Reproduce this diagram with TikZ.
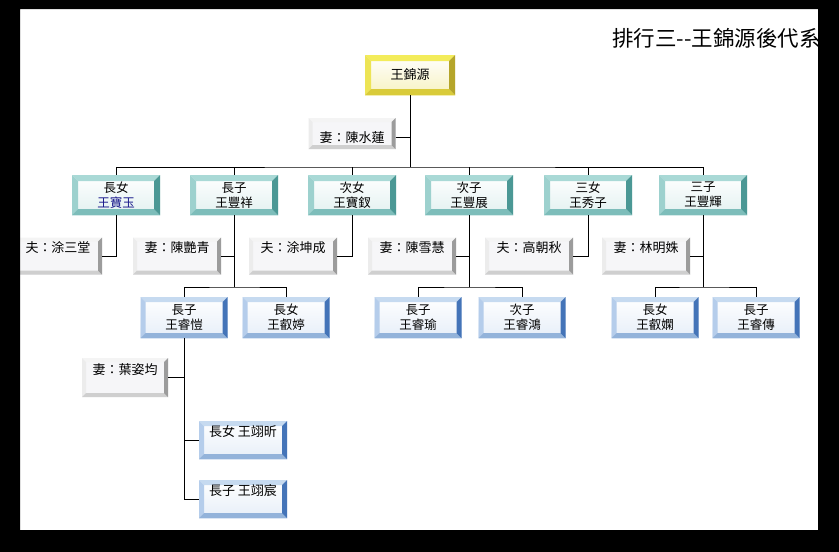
\documentclass[tikz,border=0pt]{standalone}
\usepackage{fontspec}
\newfontfamily\cjk{Noto Sans CJK TC}
\usetikzlibrary{calc}
\definecolor{yTop}{HTML}{F3EC5A}\definecolor{yLeft}{HTML}{EDE455}\definecolor{yBot}{HTML}{D9CB3A}\definecolor{yRight}{HTML}{B5A52A}\definecolor{yIn}{HTML}{F7F2C0}
\definecolor{tTop}{HTML}{A9D9D6}\definecolor{tLeft}{HTML}{9DD1CE}\definecolor{tBot}{HTML}{7DBDBA}\definecolor{tRight}{HTML}{4B9895}\definecolor{tIn}{HTML}{E2F1F0}
\definecolor{bTop}{HTML}{C6DAF0}\definecolor{bLeft}{HTML}{B5CDEB}\definecolor{bBot}{HTML}{93B3DA}\definecolor{bRight}{HTML}{4474B8}\definecolor{bIn}{HTML}{E6EEF8}
\definecolor{gTop}{HTML}{F4F4F4}\definecolor{gLeft}{HTML}{ECECEC}\definecolor{gBot}{HTML}{CFCFCF}\definecolor{gRight}{HTML}{9C9C9C}\definecolor{gIn}{HTML}{F6F6F8}
\definecolor{nameblue}{HTML}{1A1A8C}
\tikzset{
  bevel/.style n args={5}{path picture={
    \coordinate (pNW) at (path picture bounding box.north west);
    \coordinate (pSE) at (path picture bounding box.south east);
    \coordinate (pNE) at (pNW -| pSE);
    \coordinate (pSW) at (pNW |- pSE);
    \fill[#1] (pNW) -- (pNE) -- ([shift={(-#5,#5)}]pNE) -- ([shift={(#5,#5)}]pNW) -- cycle;
    \fill[#2] (pNW) -- ([shift={(#5,#5)}]pNW) -- ([shift={(#5,-#5)}]pSW) -- (pSW) -- cycle;
    \fill[#3] (pSW) -- (pSE) -- ([shift={(-#5,-#5)}]pSE) -- ([shift={(#5,-#5)}]pSW) -- cycle;
    \fill[#4] (pNE) -- (pSE) -- ([shift={(-#5,-#5)}]pSE) -- ([shift={(-#5,#5)}]pNE) -- cycle;
  }},
  boxbase/.style={inner sep=0pt, align=center, font=\cjk\fontsize{12.5}{15}\selectfont},
  rootbox/.style={boxbase, font=\cjk\fontsize{13}{15}\selectfont, minimum width=90pt, minimum height=40pt,
    top color=white, bottom color=yIn, bevel={yTop}{yLeft}{yBot}{yRight}{6}},
  tealbox/.style={boxbase, minimum width=88pt, minimum height=40pt,
    top color=white, bottom color=tIn, bevel={tTop}{tLeft}{tBot}{tRight}{6}},
  bluebox/.style={boxbase, minimum width=87pt, minimum height=41pt,
    top color=white, bottom color=bIn, bevel={bTop}{bLeft}{bBot}{bRight}{5}},
  lowbox/.style={boxbase, font=\cjk\fontsize{13}{15}\selectfont, minimum width=88pt, minimum height=38pt,
    text height=10pt, text depth=16.5pt,
    top color=white, bottom color=bIn, bevel={bTop}{bLeft}{bBot}{bRight}{5}},
  spousebox/.style={boxbase, font=\cjk\fontsize{13}{15}\selectfont, minimum width=88pt, minimum height=37pt,
    text height=10pt, text depth=16.5pt,
    fill=gIn, bevel={gTop}{gLeft}{gBot}{gRight}{4}},
  rootspouse/.style={spousebox, minimum width=87pt, minimum height=31pt, text height=20.4pt, text depth=2pt},
  link/.style={draw=black, line width=1pt},
}
\begin{document}
\begin{tikzpicture}[x=1pt,y=-1pt]
\useasboundingbox (0,0) rectangle (839,552);
\fill[white] (0,0) rectangle (839,552);

\node[anchor=west, inner sep=0pt, font=\cjk\fontsize{21.5}{24}\selectfont] (title) at (612,38) {排行三--王錦源後代系};

\node[rootbox] (r) at (410,75) {王錦源};
\node[rootspouse] (s0) at (352,133.5) {妻：陳水蓮};

\node[tealbox] (n1) at (116,195) {長女\\{\color{nameblue}王寶玉}};
\node[tealbox] (n2) at (234,195) {長子\\王豐祥};
\node[tealbox] (n3) at (352,195) {次女\\王寶釵};
\node[tealbox] (n4) at (469,195) {次子\\王豐展};
\node[tealbox] (n5) at (588,195) {三女\\王秀子};
\node[tealbox] (n6) at (703,195) {三子\\王豐輝};

\node[spousebox] (p1) at (58,256) {夫：涂三堂};
\node[spousebox] (p2) at (177,256) {妻：陳艷青};
\node[spousebox] (p3) at (293,256) {夫：涂坤成};
\node[spousebox] (p4) at (412,256) {妻：陳雪慧};
\node[spousebox] (p5) at (529,256) {夫：高朝秋};
\node[spousebox] (p6) at (646,256) {妻：林明姝};

\node[bluebox] (k1) at (184,317.5) {長子\\王睿愷};
\node[bluebox] (k2) at (286,317.5) {長女\\王叡婷};
\node[bluebox] (k3) at (418,317.5) {長子\\王睿瑜};
\node[bluebox] (k4) at (522,317.5) {次子\\王睿鴻};
\node[bluebox] (k5) at (655,317.5) {長女\\王叡嫻};
\node[bluebox] (k6) at (756,317.5) {長子\\王睿傳};

\node[spousebox, minimum width=86pt, minimum height=39pt] (p7) at (125,377.5) {妻：葉姿均};
\node[lowbox] (g1) at (243,440) {長女 王翊昕};
\node[lowbox] (g2) at (243,499) {長子 王翊宸};

% connectors
\coordinate (bar) at (410,167);
\draw[link] (r.south) -- (bar);
\draw[link] ([yshift=-3.5pt]s0.east) -- ([yshift=-3.5pt]s0.east -| r.south);
\draw[link] (n1.north) |- (bar) -| (n6.north);
\foreach \n in {n2,n3,n4,n5} \draw[link] (\n.north) -- (\n.north |- bar);

\draw[link] (n1.south) |- (p1.east);
\draw[link] (n3.south) |- (p3.east);
\draw[link] (n5.south) |- (p5.east);

\coordinate (b2) at (234,287);
\coordinate (b4) at (469,287);
\coordinate (b6) at (703,287);
\draw[link] (n2.south) -- (b2);
\draw[link] (n4.south) -- (b4);
\draw[link] (n6.south) -- (b6);
\draw[link] (p2.east) -- (p2.east -| n2.south);
\draw[link] (p4.east) -- (p4.east -| n4.south);
\draw[link] (p6.east) -- (p6.east -| n6.south);
\draw[link] (k1.north) |- (b2) -| (k2.north);
\draw[link] (k3.north) |- (b4) -| (k4.north);
\draw[link] (k5.north) |- (b6) -| (k6.north);

\draw[link] (k1.south) -- (k1.south |- g2.west);
\draw[link] (p7.east) -- (p7.east -| k1.south);
\draw[link] (g1.west) -- (g1.west -| k1.south);
\draw[link] (g2.west) -- (g2.west -| k1.south);

% black screen frame
\fill[black, even odd rule] (0,0) rectangle (839,552) (20,9) rectangle (818,530);
\end{tikzpicture}
\end{document}
